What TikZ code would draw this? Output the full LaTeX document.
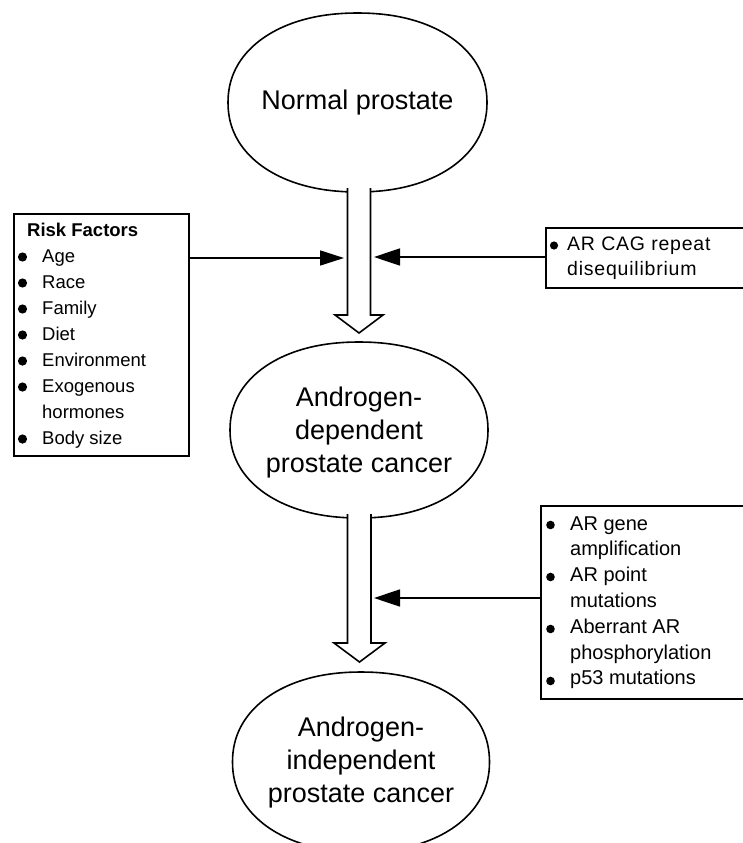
\documentclass[tikz,border=0pt]{standalone}
\usepackage{fontspec}
\setmainfont{Liberation Sans}
\newfontfamily\spacedfont[LetterSpace=4]{Liberation Sans}
\usetikzlibrary{arrows.meta}
\newcommand\supell[4]{%
  \draw[line width=1.6pt] plot[domain=0:360, samples=181, variable=\t]
   ({#1 + #3*cos(\t)/((abs(cos(\t))+0.0001)^2.15 + (abs(sin(\t))+0.0001)^2.15)^(1/2.15)},
    {#2 + #4*sin(\t)/((abs(cos(\t))+0.0001)^2.15 + (abs(sin(\t))+0.0001)^2.15)^(1/2.15)}) -- cycle;}
\begin{document}
\begin{tikzpicture}[x=1pt,y=-1pt,
  elltext/.style={font=\fontsize{27}{33}\selectfont, align=center, inner sep=0pt},
  boxnode/.style={draw, line width=1.6pt, anchor=north west, inner sep=0pt},
  blockarrow/.style={draw, fill=white, line width=1.6pt, line join=miter},
  sidearrowL/.style={line width=1.6pt, -{Triangle[length=24pt,width=15pt]}},
  sidearrowR/.style={line width=1.6pt, -{Triangle[length=26pt,width=17pt]}},
  bulletdot/.style={fill=black}]
\useasboundingbox (0,0) rectangle (743,843);

% ellipses
\supell{357.5}{102.5}{129.5}{89.5}
\supell{359}{430}{129}{88}
\supell{361}{762}{128.5}{90}

% text in ellipses
\node[elltext] (np) at (357.5,102.5) {Normal prostate};
\node[elltext] (adpc) at (359,433) {Androgen-\\dependent\\prostate cancer};
\node[elltext] (aipc) at (361,763) {Androgen-\\independent\\prostate cancer};

% block arrows
\coordinate (b1a) at (347.5,188);
\coordinate (b1b) at (370.5,188);
\coordinate (b1t) at (359,333);
\path[blockarrow] (b1a) -- (b1a |- 0,315) -- (335,315) -- (b1t) -- (383,315) -- (b1b |- 0,315) -- (b1b);
\coordinate (b2a) at (347.5,514);
\coordinate (b2b) at (371,514);
\coordinate (b2t) at (359.5,662);
\path[blockarrow] (b2a) -- (b2a |- 0,643) -- (334,643) -- (b2t) -- (385,643) -- (b2b |- 0,643) -- (b2b);

% boxes
\node[boxnode, minimum width=175pt, minimum height=242pt] (rf) at (13,213) {};
\node[boxnode, minimum width=207pt, minimum height=60pt] (cag) at (545,227) {};
\node[boxnode, minimum width=212pt, minimum height=193pt] (mut) at (540,505) {};

% box texts
\node[anchor=base west, inner sep=0pt, font=\fontsize{18.5}{26}\selectfont] (rft) at (18,236)
 {\begin{tabular}[t]{@{}p{24pt}@{}l@{}}
  \multicolumn{2}{@{\hspace{9pt}}l@{}}{\bfseries Risk Factors}\\
   & Age\\
   & Race\\
   & Family\\
   & Diet\\
   & Environment\\
   & Exogenous\\
   & hormones\\
   & Body size
 \end{tabular}};
\node[anchor=base west, inner sep=0pt, font=\spacedfont\fontsize{19.5}{25}\selectfont] (cagt) at (549,250)
 {\begin{tabular}[t]{@{}p{18pt}@{}l@{}}
   & AR CAG repeat\\
   & disequilibrium
 \end{tabular}};
\node[anchor=base west, inner sep=0pt, font=\fontsize{20}{25.8}\selectfont] (mutt) at (546,530)
 {\begin{tabular}[t]{@{}p{24pt}@{}l@{}}
   & AR gene\\
   & amplification\\
   & AR point\\
   & mutations\\
   & Aberrant AR\\
   & phosphorylation\\
   & p53 mutations
 \end{tabular}};

% bullets
\foreach \y in {257,283,309,335,361,387,439}
  \fill[bulletdot] (22.5,\y) circle[radius=4.6];
\fill[bulletdot] (554,245.5) circle[radius=4.1];
\foreach \y in {525,577,629,681}
  \fill[bulletdot] (550.5,\y) circle[radius=4.3];

% side arrows
\coordinate (t1) at (344,258);
\coordinate (t2) at (374,257);
\coordinate (t3) at (374,598);
\draw[sidearrowL] (rf.east |- t1) -- (t1);
\draw[sidearrowR] (cag.west |- t2) -- (t2);
\draw[sidearrowR] (mut.west |- t3) -- (t3);
\end{tikzpicture}
\end{document}
